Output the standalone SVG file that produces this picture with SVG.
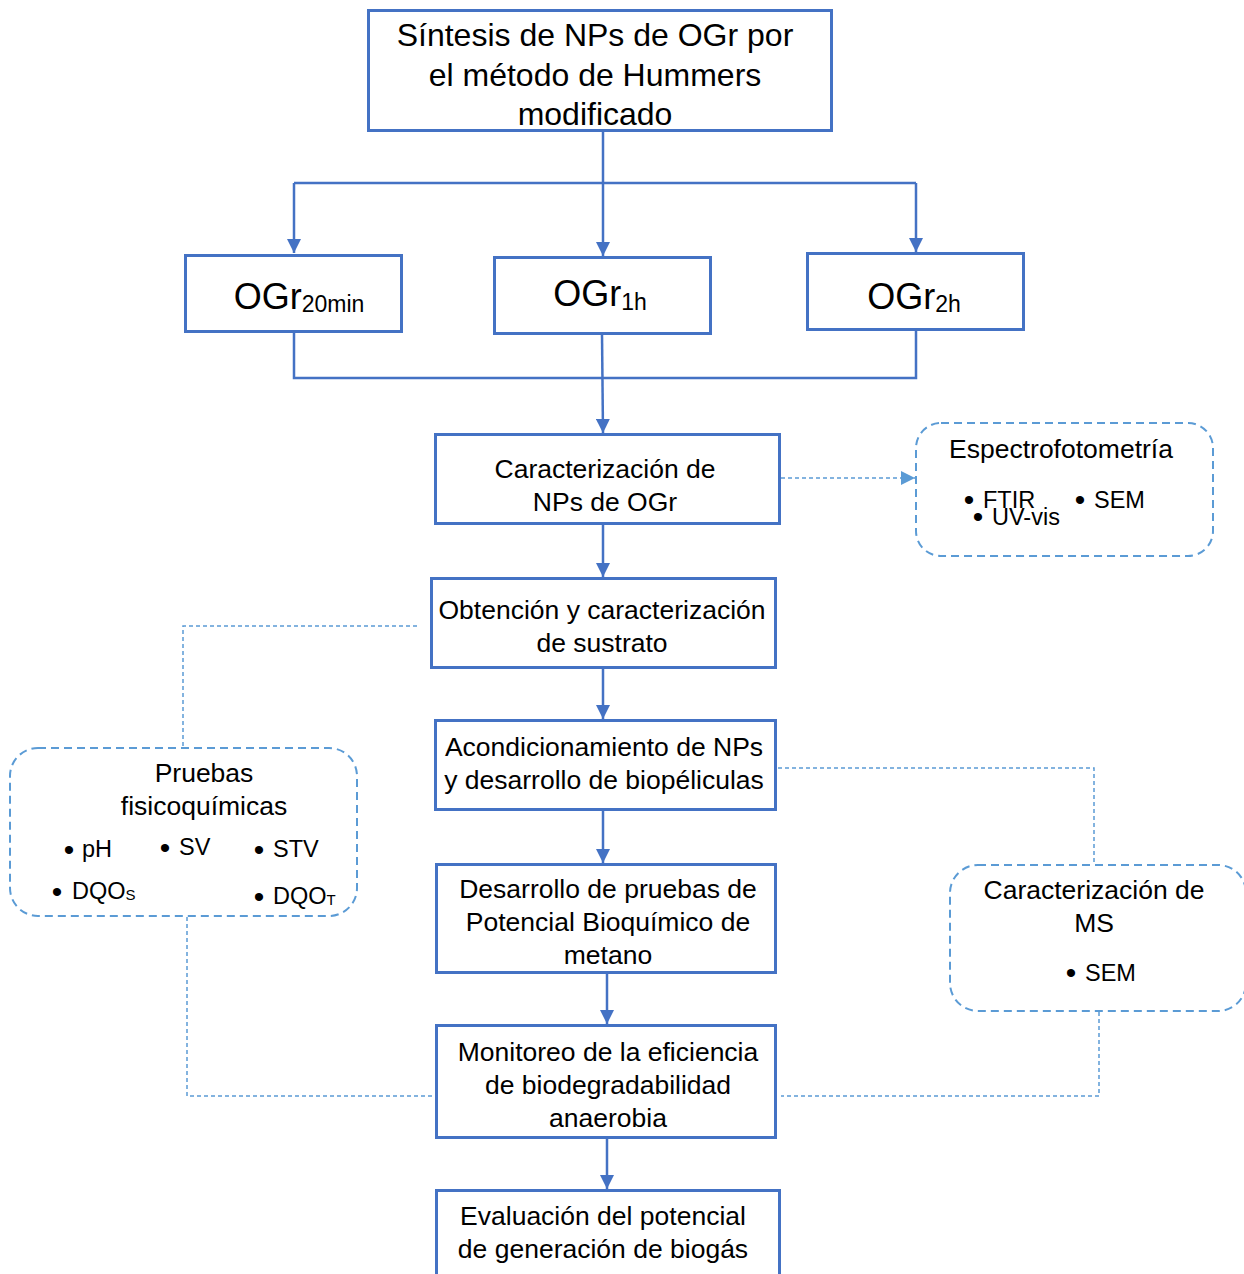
<svg xmlns="http://www.w3.org/2000/svg" width="1244" height="1274" viewBox="0 0 1244 1274">
  <defs>
    <marker id="arrow" viewBox="0 0 14 14" refX="14" refY="7" markerWidth="14" markerHeight="14" markerUnits="userSpaceOnUse" orient="auto">
      <path d="M0,0 L14,7 L0,14 Z" fill="#4472C4"/>
    </marker>
    <marker id="arrow-light" viewBox="0 0 14 14" refX="14" refY="7" markerWidth="14" markerHeight="14" markerUnits="userSpaceOnUse" orient="auto">
      <path d="M0,0 L14,7 L0,14 Z" fill="#5B9BD5"/>
    </marker>
  </defs>
  <style>
    .box { fill: #FFFFFF; stroke: #4472C4; stroke-width: 3; }
    .dbox { fill: #FFFFFF; stroke: #5B9BD5; stroke-width: 2; stroke-dasharray: 8 5; }
    .flow { fill: none; stroke: #4472C4; stroke-width: 2.5; }
    .link { fill: none; stroke: #5B9BD5; stroke-width: 1.5; stroke-dasharray: 4 3; }
    text { font-family: "Liberation Sans", Arial, sans-serif; fill: #000000; }
    .t { font-size: 26.5px; text-anchor: middle; }
    .big { font-size: 32px; text-anchor: middle; }
    .og { font-size: 36px; text-anchor: middle; }
    .b { font-size: 23.5px; }
    .dot { font-size: 30px; text-anchor: middle; }
  </style>
  <rect width="1244" height="1274" fill="#FFFFFF"/>

  <!-- solid and dashed connectors -->
  <g id="connectors">
    <path class="flow" d="M603,131 V183"/>
    <path class="flow" d="M294,183 H916"/>
    <path class="flow" d="M294,183 V253" marker-end="url(#arrow)"/>
    <path class="flow" d="M603,183 V256" marker-end="url(#arrow)"/>
    <path class="flow" d="M916,183 V252" marker-end="url(#arrow)"/>
    <path class="flow" d="M294,332 V378 H916 V330"/>
    <path class="flow" d="M602,334 L603,433" marker-end="url(#arrow)"/>
    <path class="flow" d="M603,524 V577" marker-end="url(#arrow)"/>
    <path class="flow" d="M603,668 V719" marker-end="url(#arrow)"/>
    <path class="flow" d="M603,811 V863" marker-end="url(#arrow)"/>
    <path class="flow" d="M607,973 V1024" marker-end="url(#arrow)"/>
    <path class="flow" d="M607,1138 V1189" marker-end="url(#arrow)"/>

    <path class="link" d="M781,478 H915" marker-end="url(#arrow-light)"/>
    <path class="link" d="M417,626 H183 V748"/>
    <path class="link" d="M187,917 V1096 H433"/>
    <path class="link" d="M778,768 H1094 V864"/>
    <path class="link" d="M1099,1012 V1096 H781"/>
  </g>

  <g id="sintesis">
    <rect class="box" x="368.5" y="10.5" width="463" height="120"/>
    <text class="big" x="595" y="46">Síntesis de NPs de OGr por</text>
    <text class="big" x="595" y="86">el método de Hummers</text>
    <text class="big" x="595" y="125">modificado</text>
  </g>

  <g id="ogr-20min">
    <rect class="box" x="185.5" y="255.5" width="216" height="76"/>
    <text class="og" x="299" y="309">OGr<tspan font-size="23" dy="3">20min</tspan></text>
  </g>

  <g id="ogr-1h">
    <rect class="box" x="494.5" y="257.5" width="216" height="76"/>
    <text class="og" x="600" y="306">OGr<tspan font-size="23" dy="4">1h</tspan></text>
  </g>

  <g id="ogr-2h">
    <rect class="box" x="807.5" y="253.5" width="216" height="76"/>
    <text class="og" x="914" y="309">OGr<tspan font-size="23" dy="3">2h</tspan></text>
  </g>

  <g id="caracterizacion-nps">
    <rect class="box" x="435.5" y="434.5" width="344" height="89"/>
    <text class="t" x="605" y="478">Caracterización de</text>
    <text class="t" x="605" y="511">NPs de OGr</text>
  </g>

  <g id="espectrofotometria">
    <rect class="dbox" x="916" y="423" width="297" height="133" rx="25" ry="25"/>
    <text class="t" x="1061" y="458">Espectrofotometría</text>
    <text class="dot" x="969" y="509.5">•</text>
    <text class="b" x="983" y="508">FTIR</text>
    <text class="dot" x="978" y="526.5">•</text>
    <text class="b" x="992" y="525">UV-vis</text>
    <text class="dot" x="1080" y="509.5">•</text>
    <text class="b" x="1094" y="508">SEM</text>
  </g>

  <g id="obtencion">
    <rect class="box" x="431.5" y="578.5" width="344" height="89"/>
    <text class="t" x="602" y="619">Obtención y caracterización</text>
    <text class="t" x="602" y="652">de sustrato</text>
  </g>

  <g id="pruebas">
    <rect class="dbox" x="10" y="748" width="347" height="168" rx="28" ry="28"/>
    <text class="t" x="204" y="782">Pruebas</text>
    <text class="t" x="204" y="815">fisicoquímicas</text>
    <text class="dot" x="69" y="859.5">•</text>
    <text class="b" x="82" y="857">pH</text>
    <text class="dot" x="165" y="857.5">•</text>
    <text class="b" x="179" y="855">SV</text>
    <text class="dot" x="259" y="859.5">•</text>
    <text class="b" x="273" y="857">STV</text>
    <text class="dot" x="57" y="901.5">•</text>
    <text class="b" x="72" y="899">DQO<tspan font-size="15" dy="1">S</tspan></text>
    <text class="dot" x="259" y="906.5">•</text>
    <text class="b" x="273" y="904">DQO<tspan font-size="15" dy="1">T</tspan></text>
  </g>

  <g id="acondicionamiento">
    <rect class="box" x="435.5" y="720.5" width="340" height="89"/>
    <text class="t" x="604" y="756">Acondicionamiento de NPs</text>
    <text class="t" x="604" y="789">y desarrollo de biopéliculas</text>
  </g>

  <g id="caracterizacion-ms">
    <rect class="dbox" x="950" y="865" width="296" height="146" rx="28" ry="28"/>
    <text class="t" x="1094" y="899">Caracterización de</text>
    <text class="t" x="1094" y="932">MS</text>
    <text class="dot" x="1071" y="982.5">•</text>
    <text class="b" x="1085" y="981">SEM</text>
  </g>

  <g id="desarrollo-pbm">
    <rect class="box" x="436.5" y="864.5" width="339" height="108"/>
    <text class="t" x="608" y="898">Desarrollo de pruebas de</text>
    <text class="t" x="608" y="931">Potencial Bioquímico de</text>
    <text class="t" x="608" y="964">metano</text>
  </g>

  <g id="monitoreo">
    <rect class="box" x="436.5" y="1025.5" width="339" height="112"/>
    <text class="t" x="608" y="1061">Monitoreo de la eficiencia</text>
    <text class="t" x="608" y="1094">de biodegradabilidad</text>
    <text class="t" x="608" y="1127">anaerobia</text>
  </g>

  <g id="evaluacion">
    <rect class="box" x="436.5" y="1190.5" width="343" height="100"/>
    <text class="t" x="603" y="1225">Evaluación del potencial</text>
    <text class="t" x="603" y="1258">de generación de biogás</text>
  </g>
</svg>
